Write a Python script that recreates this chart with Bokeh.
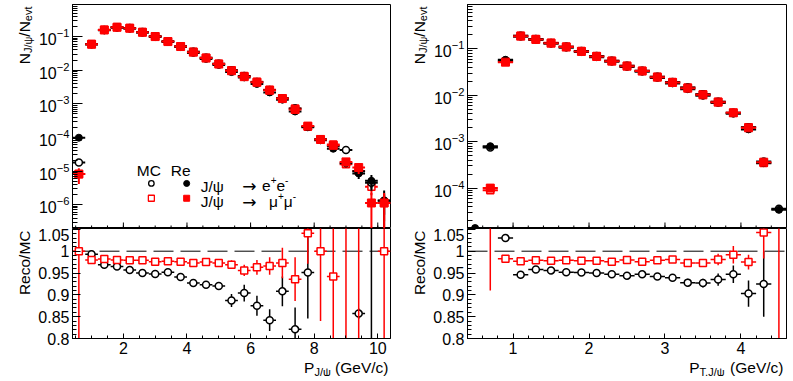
import numpy as np
from bokeh.plotting import figure
from bokeh.layouts import row, column
from bokeh.models import Range1d, FixedTicker, Label, Span, CustomJSTickFormatter, LogTickFormatter
from bokeh.embed import file_html
from bokeh.resources import INLINE

nan = float("nan")

# ---------------- data: left panel, P_J/psi (GeV/c), bin width 0.4 ----------------
p_centers = [0.6, 1.0, 1.4, 1.8, 2.2, 2.6, 3.0, 3.4, 3.8, 4.2, 4.6, 5.0, 5.4,
             5.8, 6.2, 6.6, 7.0, 7.4, 7.8, 8.2, 8.6, 9.0, 9.4, 9.8, 10.2]
p_halfwidth = 0.2

# N_J/psi / N_evt
p_mc_ee = [1.8e-5, 0.0589, 0.158, 0.191, 0.179, 0.136, 0.102, 0.0725, 0.0517, 0.0353, 0.0235, 0.0155, 0.0099,
           0.00675, 0.00446, 0.00259, 0.00146, 7.2e-4, 2.1e-4, 8.8e-5, 5.5e-5, 4.2e-5, 9.9e-6, 4.5e-6, 1.3e-6]
p_re_ee = [9.8e-5, 0.0585, 0.153, 0.184, 0.171, 0.129, 0.0965, 0.0690, 0.0487, 0.0327, 0.0217, 0.0143, 0.0088,
           0.0061, 0.0039, 0.00218, 0.00133, 5.9e-4, 2.0e-4, 8.2e-5, 4.6e-5, 1.7e-5, 8.5e-6, 5.1e-6, 1.32e-6]
p_mc_mm = [8.1e-6, 0.0602, 0.160, 0.193, 0.181, 0.137, 0.1025, 0.0727, 0.0518, 0.0354, 0.0235, 0.0156, 0.00995,
           0.0067, 0.00453, 0.00261, 0.00147, 7.2e-4, 2.08e-4, 8.7e-5, 6.15e-5, 1.6e-5, 1.0e-5, 3.4e-6, 1.12e-6]
p_re_mm = [8.1e-6, 0.059, 0.157, 0.189, 0.177, 0.134, 0.100, 0.071, 0.0506, 0.0344, 0.0229, 0.0152, 0.00964,
           0.00641, 0.00436, 0.00252, 0.00143, 6.77e-4, 2.17e-4, 8.7e-5, 5.8e-5, 1.87e-5, 1.27e-5, 1.12e-6, 1.12e-6]
p_mc_ee_err = [3e-6, 5e-4, 1e-3, 1e-3, 1e-3, 8e-4, 6e-4, 5e-4, 4e-4, 3e-4, 2e-4, 1.5e-4, 1e-4,
               8e-5, 6e-5, 4e-5, 3e-5, 1.5e-5, 8e-6, 5e-6, 4e-6, 4e-6, 2e-6, 1.5e-6, 8e-7]
p_re_ee_err = [1e-5, 1e-3, 2e-3, 2e-3, 2e-3, 1.5e-3, 1.2e-3, 9e-4, 7e-4, 5e-4, 3.5e-4, 2.5e-4, 1.8e-4,
               1.3e-4, 1e-4, 7e-5, 4.5e-5, 2.5e-5, 1.2e-5, 7e-6, 6e-6, 4e-6, 2.7e-6, 2.5e-6, 1.3e-6]
p_mc_mm_err = [2e-6, 5e-4, 1e-3, 1e-3, 1e-3, 8e-4, 6e-4, 5e-4, 4e-4, 3e-4, 2e-4, 1.5e-4, 1e-4,
               8e-5, 6e-5, 4e-5, 3e-5, 1.5e-5, 8e-6, 5e-6, 4e-6, 3e-6, 2e-6, 1.5e-6, 8e-7]
p_re_mm_err = [4e-6, 1e-3, 2e-3, 2e-3, 2e-3, 1.5e-3, 1.2e-3, 9e-4, 7e-4, 5e-4, 3.5e-4, 2.5e-4, 1.8e-4,
               1.3e-4, 1e-4, 7e-5, 4.5e-5, 2.5e-5, 1.2e-5, 7e-6, 6e-6, 5e-6, 4.5e-6, 1.1e-6, 1.1e-6]

# Reco / MC
p_ratio_ee = [nan, 0.993, 0.969, 0.965, 0.957, 0.950, 0.948, 0.952, 0.941, 0.927, 0.923, 0.920, 0.887,
              0.904, 0.875, 0.842, 0.908, 0.821, 0.951, nan, nan, nan, 0.857, 1.13, nan]
p_ratio_ee_err = [0, 0.003, 0.003, 0.003, 0.003, 0.004, 0.004, 0.004, 0.005, 0.005, 0.006, 0.009, 0.015,
                  0.019, 0.023, 0.025, 0.034, 0.05, 0.105, 0, 0, 0, 0.012, 0.5, 0]
p_ratio_mm = [1.0, 0.980, 0.982, 0.980, 0.979, 0.979, 0.976, 0.977, 0.976, 0.973, 0.975, 0.973, 0.969,
              0.956, 0.963, 0.966, 0.973, 0.936, 1.041, 1.0, 0.942, 1.17, 1.26, 0.33, 1.0]
p_ratio_mm_err = [0.6, 0.003, 0.003, 0.003, 0.003, 0.003, 0.004, 0.004, 0.004, 0.005, 0.006, 0.007, 0.010,
                  0.013, 0.017, 0.020, 0.035, 0.050, 0.07, 0.16, 0.15, 0.45, 0.5, 0.33, 0.8]

# ---------------- data: right panel, P_T,J/psi (GeV/c), bin width 0.2 ----------------
pt_centers = [0.5, 0.7, 0.9, 1.1, 1.3, 1.5, 1.7, 1.9, 2.1, 2.3, 2.5, 2.7, 2.9, 3.1, 3.3,
              3.5, 3.7, 3.9, 4.1, 4.3, 4.5]
pt_halfwidth = 0.1

pt_mc_ee = [nan, 7.5e-4, 0.0563, 0.191, 0.162, 0.134, 0.111, 0.0895, 0.0697, 0.0554, 0.0431, 0.0338,
            0.0251, 0.0192, 0.0146, 0.0105, 0.00727, 0.00422, 0.00204, 3.73e-4, 3.6e-5]
pt_re_ee = [1.38e-5, 8.0e-4, 0.058, 0.181, 0.155, 0.128, 0.1055, 0.0851, 0.0662, 0.0525, 0.0407, 0.0320,
            0.0236, 0.0180, 0.0135, 0.0097, 0.0068, 0.0040, 0.00184, 3.45e-4, 3.4e-5]
pt_mc_mm = [nan, 9.0e-5, 0.0525, 0.192, 0.1625, 0.135, 0.1115, 0.0897, 0.0699, 0.0556, 0.0432, 0.0339,
            0.0250, 0.0192, 0.0146, 0.0105, 0.00724, 0.00422, 0.00204, 3.47e-4, nan]
pt_re_mm = [nan, 1.0e-4, 0.0516, 0.1875, 0.159, 0.132, 0.109, 0.0877, 0.0684, 0.0543, 0.0423, 0.0331,
            0.0245, 0.0188, 0.0142, 0.0102, 0.0071, 0.00419, 0.00199, 3.62e-4, nan]
pt_mc_ee_err = [0, 3e-5, 6e-4, 1.5e-3, 1.2e-3, 1e-3, 9e-4, 8e-4, 6e-4, 5e-4, 4e-4, 3e-4,
                2.5e-4, 2e-4, 1.6e-4, 1.2e-4, 9e-5, 6e-5, 3.5e-5, 1.2e-5, 4e-6]
pt_re_ee_err = [2e-6, 3e-5, 6e-4, 1.5e-3, 1.2e-3, 1e-3, 9e-4, 8e-4, 6e-4, 5e-4, 4e-4, 3e-4,
                2.5e-4, 2e-4, 1.6e-4, 1.2e-4, 9e-5, 6e-5, 3.5e-5, 1.2e-5, 4e-6]
pt_mc_mm_err = [0, 1e-5, 6e-4, 1.5e-3, 1.2e-3, 1e-3, 9e-4, 8e-4, 6e-4, 5e-4, 4e-4, 3e-4,
                2.5e-4, 2e-4, 1.6e-4, 1.2e-4, 9e-5, 6e-5, 3.5e-5, 1.2e-5, 0]
pt_re_mm_err = [0, 1e-5, 6e-4, 1.5e-3, 1.2e-3, 1e-3, 9e-4, 8e-4, 6e-4, 5e-4, 4e-4, 3e-4,
                2.5e-4, 2e-4, 1.6e-4, 1.2e-4, 9e-5, 6e-5, 3.5e-5, 1.2e-5, 0]

pt_ratio_ee = [nan, nan, 1.030, 0.946, 0.958, 0.956, 0.952, 0.951, 0.950, 0.947, 0.944, 0.947, 0.942,
               0.939, 0.928, 0.927, 0.935, 0.947, 0.903, 0.925, nan]
pt_ratio_ee_err = [0, 0, 0.003, 0.003, 0.003, 0.003, 0.003, 0.003, 0.004, 0.004, 0.005, 0.005, 0.007,
                   0.008, 0.009, 0.010, 0.014, 0.020, 0.030, 0.075, 0]
pt_ratio_mm = [nan, 1.30, 0.9825, 0.977, 0.979, 0.978, 0.979, 0.978, 0.978, 0.976, 0.980, 0.976, 0.979,
               0.981, 0.973, 0.973, 0.981, 0.992, 0.975, 1.043, 1.5]
pt_ratio_mm_err = [0, 0.39, 0.003, 0.003, 0.003, 0.003, 0.003, 0.003, 0.003, 0.003, 0.004, 0.004, 0.005,
                   0.006, 0.008, 0.009, 0.013, 0.020, 0.017, 0.06, 1.0]

# tick values
ratio_ticks = [0.8, 0.85, 0.9, 0.95, 1.0, 1.05]
p_ticks = [2, 4, 6, 8, 10]
pt_ticks = [1, 2, 3, 4]

# ---------------- style / layout ----------------
FONT = "Liberation Sans"
RED = "#ff0000"
BLACK = "#000000"
TICK_FS = "16px"
TITLE_FS = 15.5
SUB_FS = 11

TOP_BORDER = 4
TOP_H = 228       # top pads (frame 224 + 4 above)
BOT_BORDER = 24
BOT_H = 110 + BOT_BORDER   # ratio pads (frame + tick labels)
XT_H = 28         # x-title strip
XT_OVERLAP = 14
XT_BASE = 9       # baseline of the x titles above the strip bottom
L_STRIP, R_STRIP = 35, 35
LW, RW = 395, 397
L_FRAME_LEFT, R_FRAME_LEFT = 37, 37
L_FRAME_RIGHT, R_FRAME_RIGHT = 5, 6
TITLE_BASE = 23.5  # baseline of the rotated y titles inside their strips

ADV = {"N": 722, "J": 500, "/": 278, "ψ": 712, "e": 556, "v": 500, "t": 278, "P": 667, "T": 611,
       ",": 278, " ": 278, "(": 333, ")": 333, "G": 778, "V": 667, "c": 500, "R": 722, "o": 556,
       "M": 833, "C": 722, "+": 584, "-": 333, "μ": 576, "→": 838, "r": 333}


def tw(s, size):
    return sum(ADV.get(ch, 556) for ch in s) * size / 1000.0


def rich(p, parts, x, y, align="left", angle=0.0, dx=0.0, dy=0.0, color=BLACK):
    total = sum(tw(pt[0], pt[1]) for pt in parts)
    pos = {"left": 0.0, "right": -total, "center": -total / 2.0}[align]
    for pt in parts:
        t, s, r = pt[0], pt[1], pt[2]
        font = pt[3] if len(pt) > 3 else FONT
        lead = tw(t[: len(t) - len(t.lstrip())], s)
        if angle == 0:
            xo, yo = dx + pos + lead, dy + r
        else:
            xo, yo = dx - r, dy + pos + lead
        p.add_layout(Label(x=x, y=y, x_offset=xo, y_offset=yo, text=t.strip(), text_font=font,
                           text_font_size=f"{s}px", text_align="left", text_baseline="alphabetic",
                           angle=angle, text_color=color))
        pos += tw(t, s)


def strip(width, height, margin=None):
    kw = {} if margin is None else {"margin": margin}
    p = figure(width=width, height=height, x_range=Range1d(0, width), y_range=Range1d(0, height),
               x_axis_type=None, y_axis_type=None, output_backend="svg", toolbar_location=None,
               min_border=0, min_border_left=0, min_border_right=0, min_border_top=0, min_border_bottom=0,
               **kw)
    p.grid.visible = False
    p.outline_line_color = None
    p.background_fill_alpha = 0
    p.border_fill_alpha = 0
    return p


def style(p):
    p.grid.visible = False
    p.outline_line_color = BLACK
    p.outline_line_width = 1
    p.background_fill_color = "white"
    p.border_fill_color = "white"
    for ax in p.axis:
        ax.axis_line_color = BLACK
        ax.major_tick_line_color = BLACK
        ax.minor_tick_line_color = BLACK
        ax.major_tick_out = 0
        ax.minor_tick_out = 0
        ax.major_label_text_font = FONT
        ax.major_label_text_font_size = TICK_FS
        ax.major_label_text_color = BLACK
        ax.major_label_standoff = 3
    p.yaxis.major_tick_in = 10
    p.yaxis.minor_tick_in = 5
    p.xaxis.major_tick_in = 6
    p.xaxis.minor_tick_in = 3


def log_ticker():
    majors = [10.0 ** k for k in range(-8, 1)]
    minors = [m * 10.0 ** k for k in range(-8, 0) for m in range(2, 10)]
    return FixedTicker(ticks=majors, minor_ticks=minors)


def minor_list(step, lo, hi):
    return [float(v) for v in np.round(np.arange(lo, hi + 1e-9, step), 4)]


def draw_points(p, x, y, yerr, hw, color, marker, size, fill, lw, log=False):
    x = np.asarray(x, float)
    y = np.asarray(y, float)
    e = np.asarray(yerr, float)
    lo = y - e
    if log:
        lo = np.where(lo > 0, lo, 1e-12)
    p.segment(x0=x - hw, x1=x + hw, y0=y, y1=y, line_color=color, line_width=lw)
    p.segment(x0=x, x1=x, y0=lo, y1=y + e, line_color=color, line_width=lw)
    p.scatter(x=x, y=y, marker=marker, size=size, line_color=color,
              line_width=1.5 if fill == "white" else 1, fill_color=fill)


def make_top(x_range, y_range, width, bl, br, centers, hw, mc_ee, mc_ee_e, re_ee, re_ee_e,
             mc_mm, mc_mm_e, re_mm, re_mm_e, majors, minors):
    p = figure(width=width, height=TOP_H, x_range=x_range, y_range=y_range, y_axis_type="log",
               output_backend="svg", toolbar_location=None, min_border_left=bl, min_border_right=br,
               min_border_top=TOP_BORDER, min_border_bottom=0)
    style(p)
    p.xaxis.visible = False
    p.yaxis.ticker = log_ticker()
    p.yaxis.formatter = LogTickFormatter()
    # inward ticks along the bottom edge of the top pad (axis decoration)
    decades = np.log10(y_range.end / y_range.start)
    px_per_dec = (TOP_H - TOP_BORDER) / decades
    y0 = y_range.start
    p.segment(x0=majors, x1=majors, y0=[y0] * len(majors),
              y1=[y0 * 10 ** (6 / px_per_dec)] * len(majors), line_color=BLACK, line_width=1)
    p.segment(x0=minors, x1=minors, y0=[y0] * len(minors),
              y1=[y0 * 10 ** (3 / px_per_dec)] * len(minors), line_color=BLACK, line_width=1)
    draw_points(p, centers, mc_mm, mc_mm_e, hw, RED, "square", 7, "white", 2, log=True)
    draw_points(p, centers, mc_ee, mc_ee_e, hw, BLACK, "circle", 7, "white", 2, log=True)
    draw_points(p, centers, re_ee, re_ee_e, hw, BLACK, "circle", 7, BLACK, 2, log=True)
    draw_points(p, centers, re_mm, re_mm_e, hw, RED, "square", 8, RED, 2, log=True)
    return p


def make_bottom(x_range, width, bl, br, centers, hw, r_ee, r_ee_e, r_mm, r_mm_e, majors, minors):
    y_range = Range1d(0.8, 1.052)
    p = figure(width=width, height=BOT_H, x_range=x_range, y_range=y_range,
               output_backend="svg", toolbar_location=None, min_border_left=bl, min_border_right=br,
               min_border_top=0, min_border_bottom=BOT_BORDER)
    style(p)
    p.yaxis.ticker = FixedTicker(ticks=ratio_ticks, minor_ticks=minor_list(0.01, 0.8, 1.05))
    p.yaxis.formatter = CustomJSTickFormatter(
        code="return tick.toFixed(2).replace(/0+$/, '').replace(/\\.$/, '');")
    p.yaxis.major_tick_in = 8
    p.yaxis.minor_tick_in = 4
    p.xaxis.ticker = FixedTicker(ticks=majors, minor_ticks=minors)
    p.xaxis.major_tick_in = 5
    p.xaxis.minor_tick_in = 3
    p.xaxis.major_label_standoff = 3
    p.add_layout(Span(location=1.0, dimension="width", line_color=BLACK, line_width=1,
                      line_dash="20 7", level="underlay"))
    draw_points(p, centers, r_ee, r_ee_e, hw, BLACK, "circle", 7, "white", 1.5)
    draw_points(p, centers, r_mm, r_mm_e, hw, RED, "square", 7, "white", 1.5)
    return p


N_TITLE = [("N", TITLE_FS, 0), ("J/ψ", SUB_FS, -4), ("/N", TITLE_FS, 0), ("evt", SUB_FS, -4)]

# ---------------- left panel ----------------
xr_l = Range1d(0.4, 10.4)
yr_l = Range1d(1.95e-7, 0.9)
p_minors = minor_list(0.5, 0.5, 10.0)
tl = make_top(xr_l, yr_l, LW - L_STRIP, L_FRAME_LEFT, L_FRAME_RIGHT, p_centers, p_halfwidth,
              p_mc_ee, p_mc_ee_err, p_re_ee, p_re_ee_err, p_mc_mm, p_mc_mm_err, p_re_mm, p_re_mm_err,
              p_ticks, p_minors)
bl = make_bottom(xr_l, LW - L_STRIP, L_FRAME_LEFT, L_FRAME_RIGHT, p_centers, p_halfwidth,
                 p_ratio_ee, p_ratio_ee_err, p_ratio_mm, p_ratio_mm_err, p_ticks, p_minors)

s_tl = strip(L_STRIP, TOP_H)
rich(s_tl, N_TITLE, TITLE_BASE, TOP_H, align="right", angle=np.pi / 2, dy=-2)
s_bl = strip(L_STRIP, BOT_H)
rich(s_bl, [("Reco/MC", TITLE_FS, 0)], TITLE_BASE, BOT_H, align="right", angle=np.pi / 2, dy=-2)
x_l = strip(LW, XT_H, margin=(-XT_OVERLAP, 0, 0, 0))
rich(x_l, [("P", TITLE_FS, 0), ("J/ψ", SUB_FS, -4), (" (GeV/c)", TITLE_FS, 0)], 388, XT_BASE, align="right")

# legend (layout positions in data coordinates of the left top pad)
LEG_MC_X, LEG_RE_X = 2.88, 3.99
LEG_HEAD_Y = 10 ** -4.99
LEG_ROW1_Y, LEG_ROW2_Y = 10 ** -5.37, 10 ** -5.81
LEG_TXT1_Y, LEG_TXT2_Y = 10 ** -5.45, 10 ** -5.91
LEG_JPSI_X, LEG_ARROW_X, LEG_EE_X, LEG_MM_X = 4.43, 5.74, 6.36, 6.58
rich(tl, [("MC", TITLE_FS, 0)], 2.80, LEG_HEAD_Y, align="center")
rich(tl, [("Re", TITLE_FS, 0)], 3.80, LEG_HEAD_Y, align="center")
tl.scatter(x=[LEG_MC_X], y=[LEG_ROW1_Y], marker="circle", size=5.5, line_color=BLACK, fill_color="white",
           line_width=1.3)
tl.scatter(x=[LEG_RE_X], y=[LEG_ROW1_Y], marker="circle", size=6, line_color=BLACK, fill_color=BLACK)
tl.scatter(x=[LEG_MC_X], y=[LEG_ROW2_Y], marker="square", size=6, line_color=RED, fill_color="white",
           line_width=1.3)
tl.scatter(x=[LEG_RE_X], y=[LEG_ROW2_Y], marker="square", size=6, line_color=RED, fill_color=RED)
for ty in (LEG_TXT1_Y, LEG_TXT2_Y):
    rich(tl, [("J/ψ", TITLE_FS, 0)], LEG_JPSI_X, ty)
    rich(tl, [("→", 17, 0, "DejaVu Sans")], LEG_ARROW_X, ty)
rich(tl, [("e", TITLE_FS, 0), ("+", 10, 6), ("e", TITLE_FS, 0), ("-", 10, 6)], LEG_EE_X, LEG_TXT1_Y)
rich(tl, [("μ", TITLE_FS, 0), ("+", 10, 6), ("μ", TITLE_FS, 0), ("-", 10, 6)], LEG_MM_X, LEG_TXT2_Y)

# ---------------- right panel ----------------
xr_r = Range1d(0.4, 4.6)
yr_r = Range1d(1.35e-5, 0.9)
pt_minors = minor_list(0.2, 0.4, 4.6)
tr = make_top(xr_r, yr_r, RW - R_STRIP, R_FRAME_LEFT, R_FRAME_RIGHT, pt_centers, pt_halfwidth,
              pt_mc_ee, pt_mc_ee_err, pt_re_ee, pt_re_ee_err, pt_mc_mm, pt_mc_mm_err, pt_re_mm, pt_re_mm_err,
              pt_ticks, pt_minors)
br = make_bottom(xr_r, RW - R_STRIP, R_FRAME_LEFT, R_FRAME_RIGHT, pt_centers, pt_halfwidth,
                 pt_ratio_ee, pt_ratio_ee_err, pt_ratio_mm, pt_ratio_mm_err, pt_ticks, pt_minors)

s_tr = strip(R_STRIP, TOP_H)
rich(s_tr, N_TITLE, TITLE_BASE, TOP_H, align="right", angle=np.pi / 2, dy=-2)
s_br = strip(R_STRIP, BOT_H)
rich(s_br, [("Reco/MC", TITLE_FS, 0)], TITLE_BASE, BOT_H, align="right", angle=np.pi / 2, dy=-2)
x_r = strip(RW, XT_H, margin=(-XT_OVERLAP, 0, 0, 0))
rich(x_r, [("P", TITLE_FS, 0), ("T,J/ψ", SUB_FS, -4), (" (GeV/c)", TITLE_FS, 0)], 388, XT_BASE, align="right")

left_col = column(row(s_tl, tl), row(s_bl, bl), x_l)
right_col = column(row(s_tr, tr), row(s_br, br), x_r)
layout = row(left_col, right_col)
open("out.html", "w").write(file_html(layout, INLINE))
